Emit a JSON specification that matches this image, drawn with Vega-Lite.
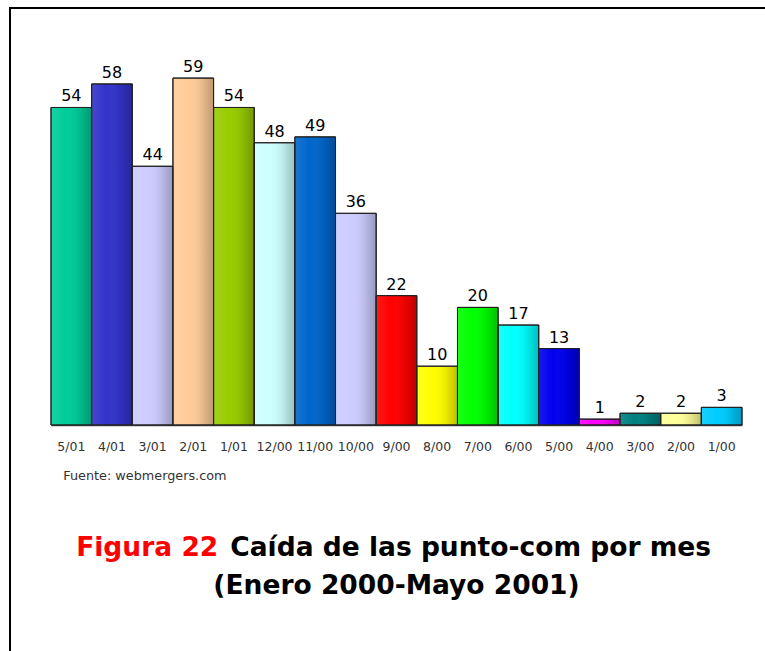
{
  "$schema": "https://vega.github.io/schema/vega-lite/v6.json",
  "autosize": "none",
  "width": 760,
  "height": 650,
  "padding": {"left": 10, "top": 8, "right": 0, "bottom": 0},
  "background": "white",
  "config": {"view": {"stroke": "#000000", "strokeWidth": 2}, "font": "DejaVu Sans"},
  "datasets": {
    "bars": [
      {"mes": "5/01", "cierres": 54},
      {"mes": "4/01", "cierres": 58},
      {"mes": "3/01", "cierres": 44},
      {"mes": "2/01", "cierres": 59},
      {"mes": "1/01", "cierres": 54},
      {"mes": "12/00", "cierres": 48},
      {"mes": "11/00", "cierres": 49},
      {"mes": "10/00", "cierres": 36},
      {"mes": "9/00", "cierres": 22},
      {"mes": "8/00", "cierres": 10},
      {"mes": "7/00", "cierres": 20},
      {"mes": "6/00", "cierres": 17},
      {"mes": "5/00", "cierres": 13},
      {"mes": "4/00", "cierres": 1},
      {"mes": "3/00", "cierres": 2},
      {"mes": "2/00", "cierres": 2},
      {"mes": "1/00", "cierres": 3}
    ]
  },
  "layer": [
    {
      "data": {"name": "bars"},
      "mark": {"type": "bar", "stroke": "#202020", "strokeWidth": 1},
      "encoding": {
        "x": {
          "field": "mes", "type": "nominal", "sort": null,
          "scale": {"range": [41, 732], "paddingInner": 0, "paddingOuter": 0},
          "axis": {
            "orient": "bottom", "offset": -233, "title": null, "ticks": false,
            "labelAngle": 0, "labelFont": "DejaVu Sans", "labelFontSize": 12.5,
            "labelColor": "#333333", "labelPadding": 15,
            "domainColor": "#555555", "domainWidth": 1.5, "grid": false
          }
        },
        "y": {
          "field": "cierres", "type": "quantitative",
          "scale": {"domain": [0, 60], "range": [417, 64.2], "nice": false, "zero": true},
          "axis": null
        },
        "color": {
          "field": "mes", "type": "nominal", "legend": null,
          "scale": {
            "domain": ["5/01","4/01","3/01","2/01","1/01","12/00","11/00","10/00","9/00","8/00","7/00","6/00","5/00","4/00","3/00","2/00","1/00"],
            "range": ["#00cc99","#3333cc","#ccccff","#ffcc99","#99cc00","#ccffff","#0066cc","#ccccff","#ff0000","#ffff00","#00ff00","#00ffff","#0000ee","#ff00ff","#008080","#ffff99","#00ccff"]
          }
        }
      }
    },
    {
      "data": {"name": "bars"},
      "mark": {
        "type": "bar",
        "fill": {
          "gradient": "linear", "x1": 0, "y1": 0, "x2": 1, "y2": 0,
          "stops": [
            {"offset": 0, "color": "rgba(255,255,255,0.10)"},
            {"offset": 0.35, "color": "rgba(255,255,255,0.0)"},
            {"offset": 0.7, "color": "rgba(0,0,0,0.08)"},
            {"offset": 1, "color": "rgba(0,0,0,0.25)"}
          ]
        },
        "stroke": "#202020", "strokeWidth": 1
      },
      "encoding": {
        "x": {"field": "mes", "type": "nominal", "sort": null},
        "y": {"field": "cierres", "type": "quantitative"}
      }
    },
    {
      "data": {"name": "bars"},
      "mark": {"type": "text", "baseline": "bottom", "dy": -3, "font": "DejaVu Sans", "fontSize": 16, "color": "#000000"},
      "encoding": {
        "x": {"field": "mes", "type": "nominal", "sort": null},
        "y": {"field": "cierres", "type": "quantitative"},
        "text": {"field": "cierres", "type": "quantitative"}
      }
    },
    {
      "data": {"values": [{"nota": "Fuente: webmergers.com"}]},
      "mark": {"type": "text", "align": "left", "baseline": "middle", "dx": -8, "font": "DejaVu Sans", "fontSize": 12.8, "color": "#333333"},
      "encoding": {
        "x": {"datum": "5/01"},
        "y": {"datum": -8.7},
        "text": {"field": "nota"}
      }
    },
    {
      "data": {"values": [{"t": "Figura 22"}]},
      "mark": {"type": "text", "align": "right", "baseline": "middle", "dx": 25, "font": "DejaVu Sans", "fontWeight": "bold", "fontSize": 26.5, "color": "#ff0000"},
      "encoding": {
        "x": {"datum": "2/01"},
        "y": {"datum": -20.9},
        "text": {"field": "t"}
      }
    },
    {
      "data": {"values": [{"t": "Caída de las punto-com por mes"}]},
      "mark": {"type": "text", "align": "left", "baseline": "middle", "dx": 37, "font": "DejaVu Sans", "fontWeight": "bold", "fontSize": 26.5, "color": "#000000"},
      "encoding": {
        "x": {"datum": "2/01"},
        "y": {"datum": -20.9},
        "text": {"field": "t"}
      }
    },
    {
      "data": {"values": [{"t": "(Enero 2000-Mayo 2001)"}]},
      "mark": {"type": "text", "align": "center", "baseline": "middle", "font": "DejaVu Sans", "fontWeight": "bold", "fontSize": 26.5, "color": "#000000"},
      "encoding": {
        "x": {"datum": "9/00"},
        "y": {"datum": -27.3},
        "text": {"field": "t"}
      }
    }
  ]
}
